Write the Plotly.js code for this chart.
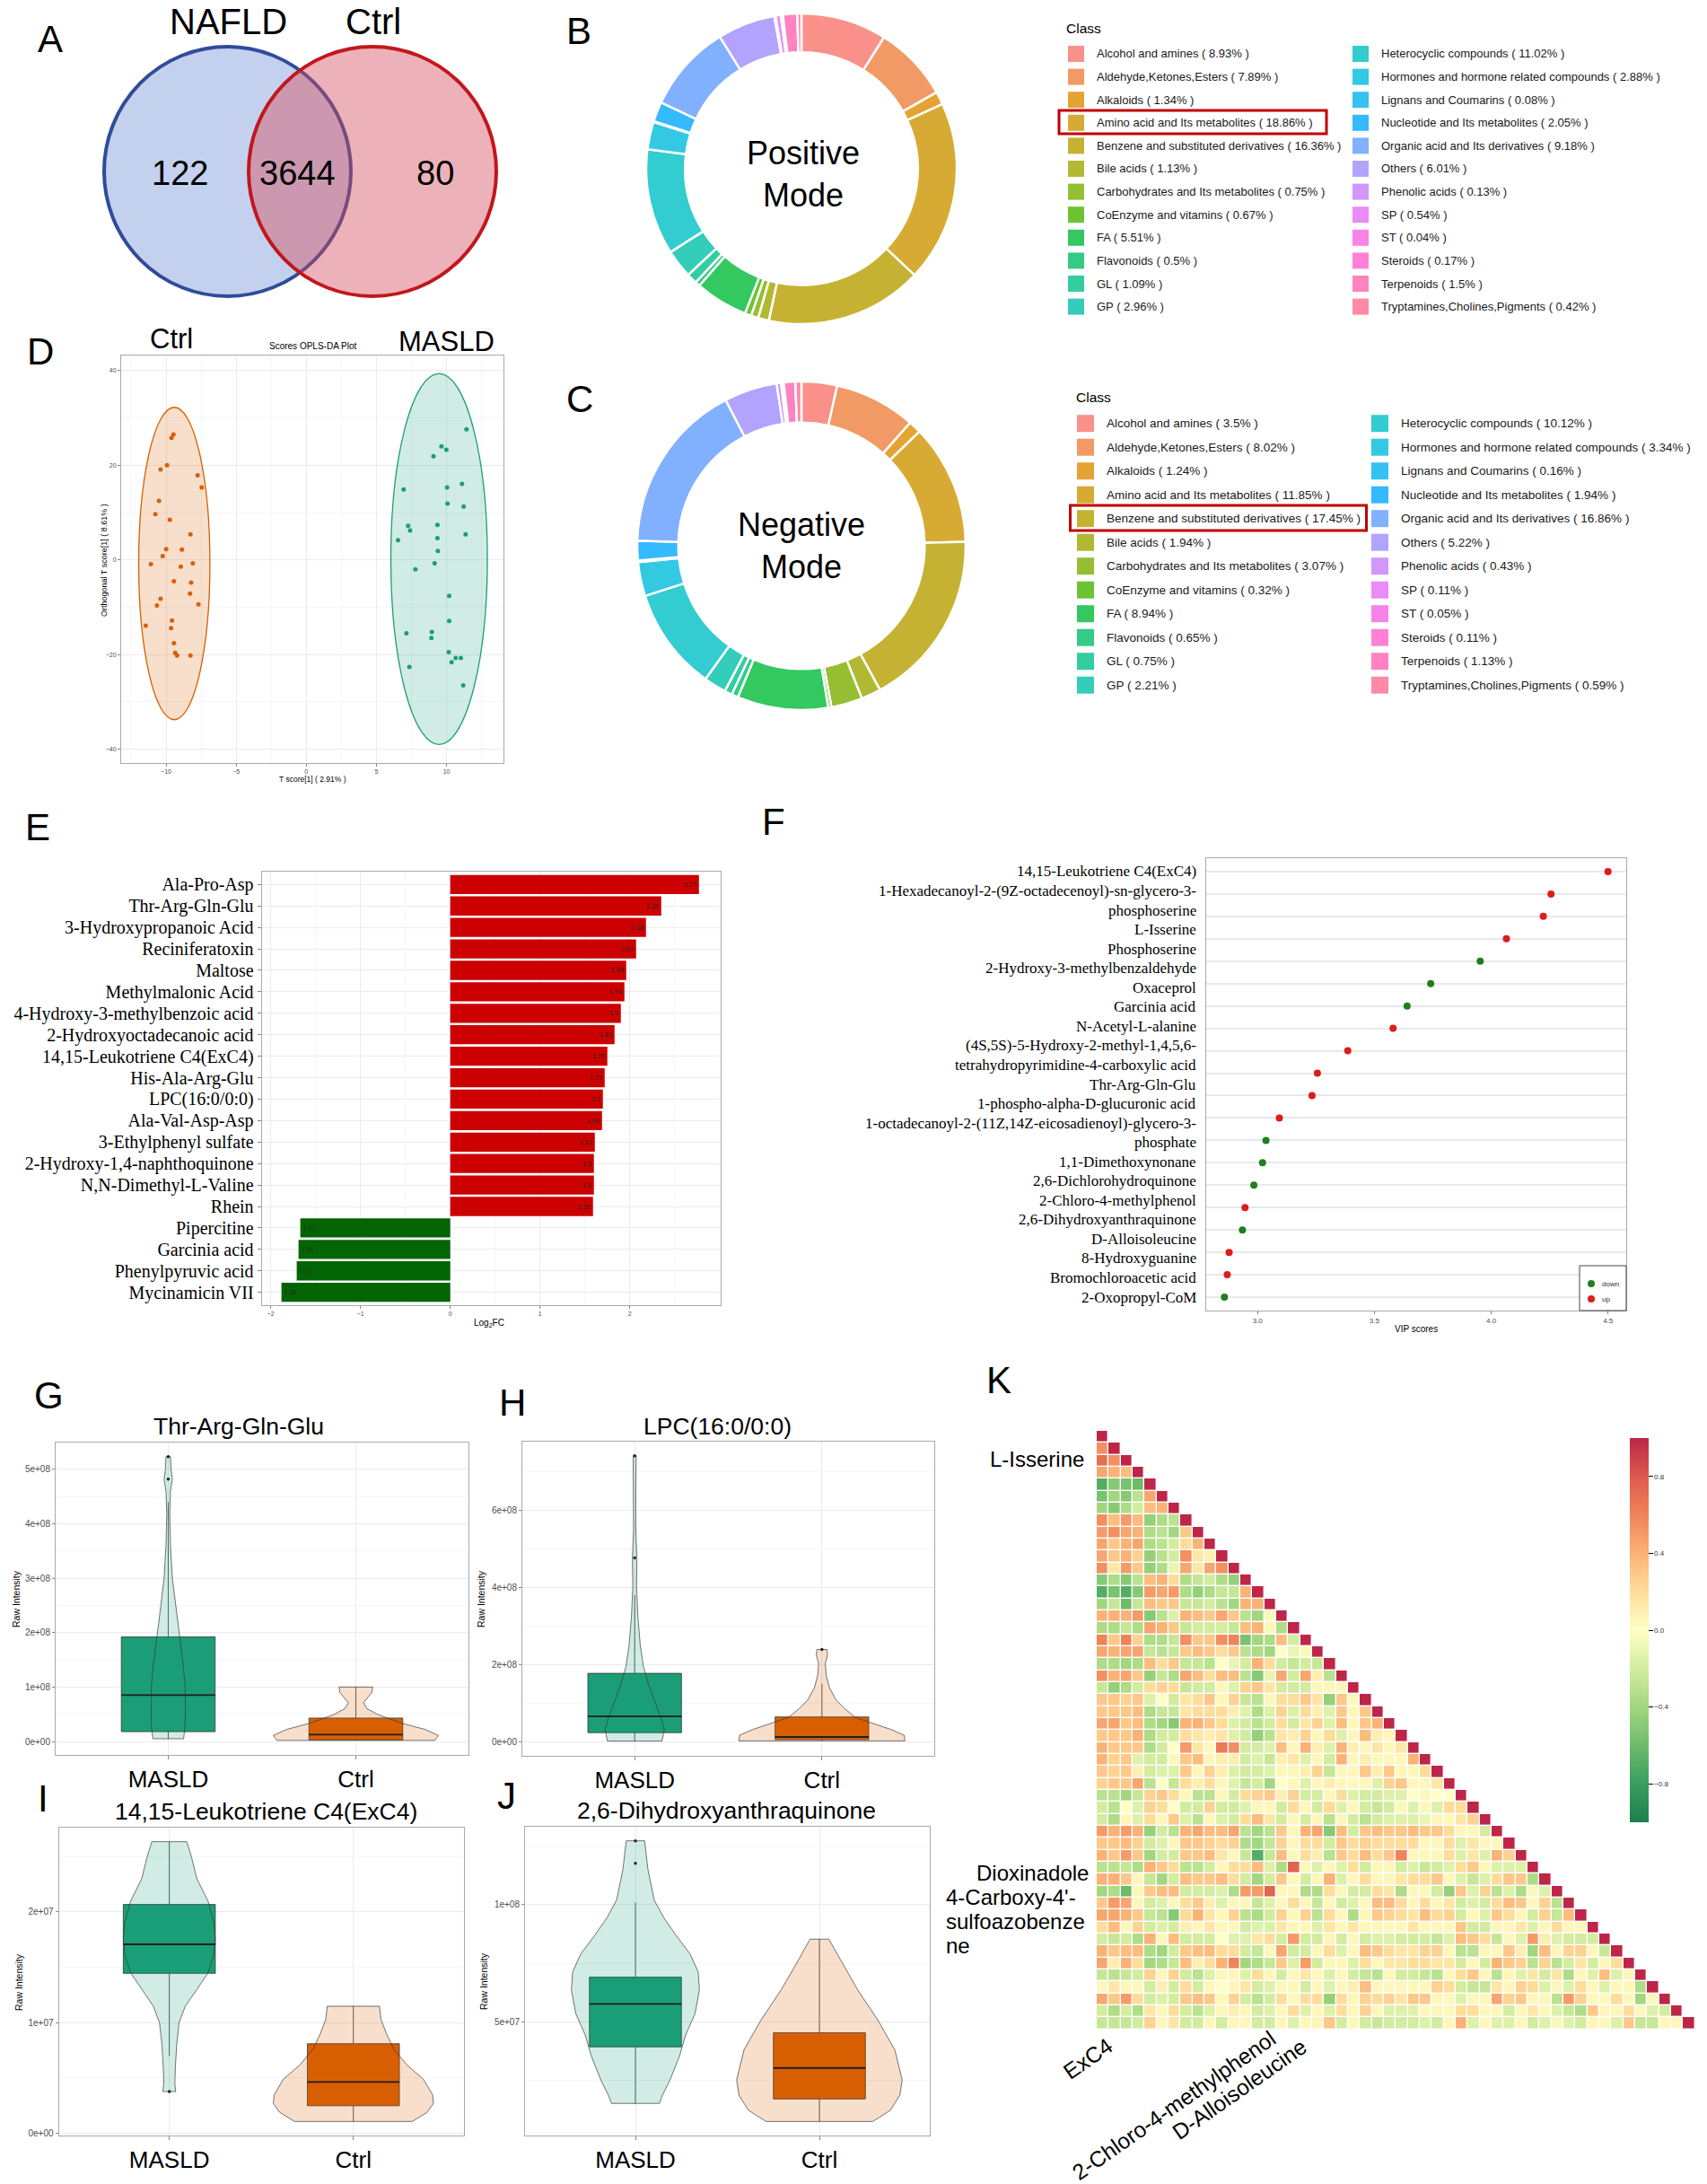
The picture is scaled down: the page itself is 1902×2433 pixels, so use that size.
<!DOCTYPE html>
<html><head><meta charset="utf-8">
<script src="https://cdn.plot.ly/plotly-3.0.1.min.js"></script>
<style>html,body{margin:0;padding:0;background:#fff}#chart{width:1902px;height:2433px}</style>
</head><body><div id="chart"></div>
<script>
// ================= DATA =================
const vennSets = ['NAFLD', 'Ctrl'];
const vennCounts = [122, 3644, 80]; // NAFLD only, shared, Ctrl only

const classNames = ['Alcohol and amines','Aldehyde,Ketones,Esters','Alkaloids','Amino acid and Its metabolites',
 'Benzene and substituted derivatives','Bile acids','Carbohydrates and Its metabolites','CoEnzyme and vitamins',
 'FA','Flavonoids','GL','GP','Heterocyclic compounds','Hormones and hormone related compounds',
 'Lignans and Coumarins','Nucleotide and Its metabolites','Organic acid and Its derivatives','Others',
 'Phenolic acids','SP','ST','Steroids','Terpenoids','Tryptamines,Cholines,Pigments'];
const posPct = [8.93,7.89,1.34,18.86,16.36,1.13,0.75,0.67,5.51,0.5,1.09,2.96,11.02,2.88,0.08,2.05,9.18,6.01,0.13,0.54,0.04,0.17,1.5,0.42];
const negPct = [3.5,8.02,1.24,11.85,17.45,1.94,3.07,0.32,8.94,0.65,0.75,2.21,10.12,3.34,0.16,1.94,16.86,5.22,0.43,0.11,0.05,0.11,1.13,0.59];
const modeNames = ['Positive<br>Mode', 'Negative<br>Mode'];

const groups = ['MASLD', 'Ctrl'];
const ctrlT = [-9.47,-9.61,-9.93,-10.39,-7.75,-7.46,-10.50,-10.76,-9.73,-8.26,-9.99,-8.87,-10.24,-11.08,-8.09,-8.95,-9.44,-8.21,-8.29,-10.39,-7.69,-10.65,-9.58,-11.45,-9.64,-9.44,-9.35,-9.21,-8.26];
const ctrlO = [26.5,25.8,20.0,19.1,17.9,15.3,12.5,9.7,8.5,5.4,2.3,2.2,0.8,-0.9,-0.7,-1.4,-4.5,-4.8,-7.1,-8.2,-9.4,-9.6,-12.8,-13.9,-14.4,-17.6,-19.6,-20.2,-20.2];
const masldT = [11.42,9.64,9.99,9.07,11.10,10.04,6.94,10.07,11.22,7.26,9.35,7.40,11.36,9.35,6.54,9.38,9.15,7.78,10.19,10.19,7.14,8.95,8.92,10.16,10.65,11.02,10.36,7.35,11.19];
const masldO = [27.6,24.0,23.3,21.9,16.1,15.3,14.9,11.9,11.3,7.2,7.4,6.2,5.4,4.6,4.2,1.9,-0.7,-2.0,-7.6,-12.9,-15.5,-15.2,-16.5,-19.5,-20.7,-20.7,-21.6,-22.6,-26.5];
// 95% ellipse extents: [centre T, centre O, half-width T, half-height O]
const ctrlEllipse = [-9.41, -0.75, 2.54, 33.0];
const masldEllipse = [9.47, 0.2, 3.44, 39.2];
const dAxisTitles = ['T score[1] ( 2.91% )', 'Orthogonal T score[1] ( 8.61% )', 'Scores OPLS-DA Plot'];

const eNames = ['Ala-Pro-Asp','Thr-Arg-Gln-Glu','3-Hydroxypropanoic Acid','Reciniferatoxin','Maltose','Methylmalonic Acid',
 '4-Hydroxy-3-methylbenzoic acid','2-Hydroxyoctadecanoic acid','14,15-Leukotriene C4(ExC4)','His-Ala-Arg-Glu','LPC(16:0/0:0)',
 'Ala-Val-Asp-Asp','3-Ethylphenyl sulfate','2-Hydroxy-1,4-naphthoquinone','N,N-Dimethyl-L-Valine','Rhein',
 'Pipercitine','Garcinia acid','Phenylpyruvic acid','Mycinamicin VII'];
const eLog2FC = [2.77,2.35,2.18,2.07,1.96,1.94,1.9,1.83,1.75,1.72,1.7,1.69,1.61,1.6,1.6,1.59,-1.67,-1.69,-1.71,-1.88];

const fNames = ['14,15-Leukotriene C4(ExC4)','1-Hexadecanoyl-2-(9Z-octadecenoyl)-sn-glycero-3-\nphosphoserine','L-Isserine',
 'Phosphoserine','2-Hydroxy-3-methylbenzaldehyde','Oxaceprol','Garcinia acid','N-Acetyl-L-alanine',
 '(4S,5S)-5-Hydroxy-2-methyl-1,4,5,6-\ntetrahydropyrimidine-4-carboxylic acid','Thr-Arg-Gln-Glu','1-phospho-alpha-D-glucuronic acid',
 '1-octadecanoyl-2-(11Z,14Z-eicosadienoyl)-glycero-3-\nphosphate','1,1-Dimethoxynonane','2,6-Dichlorohydroquinone',
 '2-Chloro-4-methylphenol','2,6-Dihydroxyanthraquinone','D-Alloisoleucine','8-Hydroxyguanine','Bromochloroacetic acid','2-Oxopropyl-CoM'];
const fVIP = [4.50,4.256,4.223,4.065,3.953,3.741,3.640,3.580,3.386,3.256,3.233,3.093,3.036,3.021,2.984,2.946,2.935,2.878,2.870,2.858];
const fDir = ['up','up','up','up','down','down','down','up','up','up','up','up','down','down','down','up','down','up','up','down'];

const violinTitles = ['Thr-Arg-Gln-Glu','LPC(16:0/0:0)','14,15-Leukotriene C4(ExC4)','2,6-Dihydroxyanthraquinone'];
// violin outlines: intensity levels and half-widths (category units)
const gMLev=[0.05e8,0.3e8,0.6e8,1.0e8,1.4e8,1.8e8,2.2e8,2.6e8,3.0e8,3.6e8,4.2e8,4.6e8,4.82e8,5.0e8,5.23e8];
const gMWid=[0.082,0.09,0.092,0.09,0.08,0.065,0.05,0.035,0.022,0.012,0.008,0.012,0.022,0.015,0.012];
const gCLev=[0.02e8,0.11e8,0.22e8,0.33e8,0.49e8,0.6e8,0.71e8,0.8e8,0.9e8,1.0e8];
const gCWid=[0.42,0.44,0.37,0.25,0.12,0.06,0.04,0.06,0.085,0.09];
const hMLev=[0.01e8,0.31e8,0.62e8,1.0e8,1.48e8,1.94e8,2.49e8,3.26e8,4.04e8,4.77e8,5.5e8,6.5e8,7.42e8];
const hMWid=[0.146,0.158,0.14,0.11,0.074,0.047,0.03,0.017,0.01,0.012,0.006,0.006,0.008];
const hCLev=[0.015e8,0.16e8,0.31e8,0.47e8,0.62e8,0.86e8,1.09e8,1.4e8,1.71e8,2.02e8,2.25e8,2.39e8];
const hCWid=[0.443,0.44,0.37,0.27,0.18,0.12,0.074,0.04,0.023,0.018,0.03,0.027];
const iMLev=[3.78e6,4.5e6,6e6,8e6,10e6,11.5e6,13e6,14.5e6,16e6,17.5e6,19e6,21e6,23e6,25e6,26.35e6];
const iMWid=[0.035,0.03,0.033,0.04,0.053,0.087,0.15,0.21,0.24,0.25,0.243,0.21,0.15,0.12,0.095];
const iCLev=[1.08e6,1.9e6,2.7e6,3.5e6,4.9e6,6.2e6,7.6e6,9e6,10.3e6,11.49e6];
const iCWid=[0.32,0.4,0.435,0.43,0.38,0.29,0.22,0.18,0.15,0.142];
const jMLev=[15.3e6,18.8e6,25.3e6,35.5e6,44.5e6,53.5e6,63.7e6,71.4e6,79e6,86.8e6,94.5e6,102e6,115e6,127.2e6];
const jMWid=[0.13,0.147,0.188,0.24,0.273,0.324,0.348,0.341,0.297,0.222,0.154,0.102,0.068,0.05];
const jCLev=[7.6e6,12.4e6,18.8e6,25.3e6,38.1e6,50.9e6,63.7e6,76.5e6,85.3e6];
const jCWid=[0.29,0.386,0.437,0.45,0.41,0.317,0.208,0.113,0.051];
// box statistics [MASLD, Ctrl]
const gQ1=[0.18e8,0.027e8], gMed=[0.85e8,0.126e8], gQ3=[1.92e8,0.43e8], gLo=[0.05e8,0.02e8], gHi=[4.4e8,1.0e8];
const hQ1=[0.23e8,0.047e8], hMed=[0.65e8,0.117e8], hQ3=[1.77e8,0.637e8], hLo=[0.01e8,0.015e8], hHi=[3.8e8,1.5e8];
const iQ1=[14.46e6,2.5e6], iMed=[17.08e6,4.65e6], iQ3=[20.68e6,8.1e6], iLo=[7.0e6,1.08e6], iHi=[26.35e6,11.49e6];
const jQ1=[39.4e6,17.2e6], jMed=[57.7e6,30.4e6], jQ3=[69.1e6,45.4e6], jLo=[15.3e6,7.6e6], jHi=[100.9e6,85.3e6];
const gOut=[4.82e8,5.23e8], hOutM=[4.77e8,7.42e8], hOutC=[2.39e8], iOut=[3.78e6], jOut=[117.6e6,127.2e6];
const gTicks=['0e+00','1e+08','2e+08','3e+08','4e+08','5e+08'];
const hTicks=['0e+00','2e+08','4e+08','6e+08'];
const iTicks=['0e+00','1e+07','2e+07'];
const jTicks=['5e+07','1e+08'];

// correlation matrix, lower triangle (row r has r+1 values)
const corrRows = [
[1],
[.55,1],
[.7,.55,1],
[.45,.4,.35,1],
[-.7,-.5,-.55,-.6,1],
[-.55,-.4,-.5,-.3,.45,1],
[-.4,-.5,-.35,-.2,.35,.4,1],
[.55,.35,.5,.35,-.45,-.35,-.3,1],
[.5,.55,.45,.4,-.35,-.3,-.4,.3,1],
[.45,.3,.4,.45,-.35,-.3,-.2,.2,.4,1],
[.45,.3,.4,.25,-.45,-.3,-.2,.55,.15,.1,1],
[.55,.15,.5,.3,-.45,-.35,-.1,.45,.15,.45,.55,1],
[-.5,-.35,-.5,-.3,.35,.4,.2,-.35,-.25,-.2,-.35,-.45,1],
[-.7,-.55,-.7,-.5,.5,.45,.5,-.35,-.45,-.35,-.25,-.25,.4,1],
[-.4,-.25,-.6,-.25,.35,.3,.3,-.25,-.25,-.2,-.3,-.4,.4,.4,1],
[.4,.4,.4,.5,-.5,-.3,-.15,.4,.35,.3,.45,.3,-.3,-.4,.05,1],
[-.35,-.35,-.25,-.35,.45,.4,.3,-.25,-.2,-.2,-.2,-.25,.35,.4,.05,-.35,1],
[.6,.3,.6,.25,-.35,-.35,-.25,.55,.3,.3,.55,.6,-.55,-.4,-.35,.35,-.2,1],
[.45,.4,.45,.45,-.25,-.3,-.25,.3,.35,.3,.2,.3,-.3,-.35,-.4,0,-.1,.05,1],
[-.35,-.35,-.4,-.35,.35,.2,.3,-.25,-.25,-.3,0,-.1,-.2,.4,.2,-.2,-.25,-.2,-.25,1],
[.55,.4,.45,.3,-.45,-.25,-.35,.45,.35,.2,.35,.35,-.3,-.5,-.1,.45,-.2,.45,.1,-.3,1],
[-.25,-.45,-.35,-.2,.2,.25,.2,-.25,-.2,-.2,.05,-.15,.25,.3,.15,-.2,-.2,-.2,.05,.05,.05,1],
[.3,.3,.25,.3,-.15,0,-.2,.15,.2,.3,.05,.25,-.25,-.3,.05,.2,.2,.3,.15,-.45,.3,.05,1],
[.3,.3,.3,.35,-.35,-.25,-.25,.15,.2,.2,.2,.1,-.15,-.35,-.15,.25,-.15,.2,.1,-.15,.3,.05,.3,1],
[.45,.45,.3,.35,-.35,-.4,-.5,.4,.4,.3,.2,-.15,-.2,-.3,-.2,.2,-.2,.15,.25,-.15,.35,.05,.3,.4,1],
[.3,.3,.3,.4,-.35,-.2,-.2,.2,.15,.1,.15,-.15,-.2,-.45,-.3,.15,.1,.25,.05,.2,-.15,.05,.35,.1,.05,1],
[.4,.3,.3,.3,-.35,-.2,0,.5,.15,.05,.65,.55,-.2,-.2,-.15,.35,.05,.4,.1,-.15,.4,.1,.05,.15,.05,.15,1],
[.4,.25,.3,-.15,-.2,-.2,.05,.3,.35,.05,.1,.1,-.2,-.15,-.25,.1,.15,-.15,.05,-.2,.4,.05,.1,.05,.05,.05,.4,1],
[.3,.25,.3,.1,-.2,-.15,-.15,.3,.05,.25,.1,-.15,-.2,-.2,-.15,.05,.05,.1,.25,-.25,.05,.05,.3,.1,.3,.05,.05,.2,1],
[.25,.3,.3,.45,-.3,0,-.25,.2,.1,.2,.05,-.15,-.25,-.2,-.4,0,.05,-.15,.05,.1,.05,.05,.05,-.15,.25,.3,.05,.05,.15,1],
[-.3,-.3,-.4,-.25,.25,.3,.2,.05,-.3,-.3,.05,-.2,.2,.25,.3,.1,.25,-.2,-.2,.05,.2,-.15,-.2,-.2,-.15,-.15,0,.05,0,0,1],
[-.2,-.3,0,-.15,.25,.2,0,-.2,-.2,.25,-.2,-.2,-.15,.05,.05,-.2,.2,.05,-.2,.2,-.15,.05,-.2,-.25,-.2,.05,-.15,.05,-.15,.2,.2,1],
[-.2,-.35,.05,-.15,.2,.05,.3,-.15,-.3,.05,-.15,-.2,.2,.35,.15,-.2,.05,-.2,.05,-.3,.05,-.2,-.3,-.2,-.15,-.15,-.15,-.1,.05,.05,.15,.25,1],
[.5,.4,.5,.4,-.45,-.2,-.3,.4,.45,.35,.35,.45,-.3,-.4,-.3,.3,.05,.4,.45,-.5,.35,-.2,.3,.35,.3,.3,.35,.3,.3,.2,.05,.05,-.2,1],
[.3,.3,.35,.25,-.2,-.15,.05,.3,.3,.25,.2,.25,-.35,-.4,-.25,.25,.05,.2,.2,-.2,.3,.2,.25,.2,.2,.2,.2,.05,.05,.2,-.15,.15,.05,.05,1],
[.4,.3,.5,.3,-.4,-.2,-.2,.3,.3,.35,.15,.05,-.25,-.7,-.25,.35,.05,.2,.1,-.3,.3,.2,.35,.2,.3,.6,.05,.05,.05,.2,-.15,.15,-.15,.4,.25,1],
[-.3,-.3,-.25,-.35,.4,.3,.2,-.3,-.3,-.2,.05,.2,.2,.35,-.15,-.35,.75,.05,-.15,.05,-.15,.2,-.2,.05,.05,-.2,-.15,-.25,-.2,-.15,.2,.3,.05,-.15,-.15,-.15,1],
[.4,.4,.3,.05,-.25,-.4,-.2,.35,.3,.3,.35,.2,-.2,-.4,-.2,.3,.05,-.2,.05,.4,-.15,.05,.2,.05,.05,.15,.2,.2,.3,.05,-.15,-.25,-.15,.2,.3,.3,-.35,1],
[-.4,-.35,-.6,.05,.3,.35,.35,-.2,-.2,-.2,-.15,-.35,.5,.5,.75,.05,.05,-.35,-.35,.2,.05,-.2,-.2,.2,.15,-.35,.05,.05,-.2,-.45,.3,-.15,.25,-.3,-.15,-.35,.05,-.15,1],
[.3,.5,.45,.05,-.2,-.15,.05,.2,.3,.1,-.15,.05,.05,-.25,-.15,.05,.2,.05,-.25,.05,-.2,-.15,.05,.35,.35,.2,.05,.2,.05,.15,-.2,-.15,-.2,.2,.35,.3,.05,.25,-.3,1],
[.45,.45,.4,.3,-.25,-.3,-.5,.2,.4,.15,.05,.25,-.3,-.35,-.2,.25,.05,.25,-.3,.2,.05,-.35,.05,.3,.25,.2,.15,.35,.2,.25,-.2,.05,-.15,.3,.2,.05,-.2,.25,-.25,.35,1],
[.2,.35,.05,.25,-.2,-.15,-.2,.1,.05,.15,.05,.05,-.2,-.15,-.15,.15,.05,.05,-.15,.15,.05,.15,.05,.05,.05,.05,.15,.05,.05,.05,.3,-.2,-.2,.05,.05,.15,-.15,.05,.2,.05,.05,1],
[-.2,-.25,-.2,-.35,.4,.05,.35,-.2,-.2,-.2,0,-.15,-.15,.15,.2,-.2,.5,-.2,-.2,.05,-.2,.05,-.2,-.15,-.15,-.2,-.2,-.2,-.25,-.15,.35,.3,.2,-.25,.05,-.15,.5,.1,-.15,-.2,-.2,-.2,1],
[.4,.3,.35,.35,-.35,-.4,-.2,.3,.35,.35,.2,.2,-.2,-.25,.05,.45,-.2,-.2,.05,.2,-.15,.05,.35,.3,.2,.15,.15,.25,.25,.05,-.3,-.3,.05,.05,.3,.1,-.4,.35,.05,.25,.25,.05,-.25,1],
[.45,.1,.4,.2,-.4,-.35,-.25,.35,.1,.2,.4,.6,-.4,-.35,-.25,.3,-.15,.5,-.2,.05,.05,-.15,.2,.05,.15,.15,.2,.2,.15,.15,-.2,.05,-.2,.4,.3,.25,-.3,.25,-.3,-.2,.15,-.2,.05,.2,1],
[-.25,-.3,-.25,-.2,.25,.05,.25,-.2,-.3,-.15,.05,.05,-.15,.2,.05,-.2,.05,.15,.05,-.15,.05,-.2,-.25,-.3,.05,-.2,-.2,-.25,-.3,.05,.2,.3,.05,-.3,.05,-.15,.15,-.2,.15,-.35,.05,-.15,.35,-.15,.05,1],
[.05,.15,.05,.05,-.2,.1,-.2,.2,-.2,.05,0,.05,.15,-.2,-.15,.05,.05,-.2,.05,-.15,.05,.1,.35,.05,.05,.05,.05,.05,.25,.2,-.2,-.25,-.25,.15,.05,.25,.2,-.15,.05,-.15,.2,.05,-.15,.05,.05,-.35,1],
[.45,.3,.5,.2,-.2,-.15,-.2,.3,.35,.3,.05,.25,-.2,-.3,-.2,.2,.05,.2,.2,-.45,.2,.05,.25,.2,.25,.15,.3,.3,.05,.05,-.15,.05,.05,.45,.25,.3,.05,.05,-.3,.5,.25,.05,.05,.2,.05,-.4,.05,1],
[-.2,-.35,-.2,-.35,.15,.05,.2,-.2,-.3,-.15,.05,.1,.05,-.2,-.15,.05,.2,-.15,.05,-.15,.2,.05,.25,.05,-.15,-.15,-.15,.05,.05,.05,.2,.2,.05,.05,-.2,.05,.15,.05,-.15,-.25,-.35,.3,.05,.05,.2,.05,-.15,-.2,1],
[-.25,-.25,-.25,-.2,.25,.05,.15,-.2,-.2,.05,-.2,.05,.05,-.2,-.2,.05,-.15,.05,.05,.3,-.2,.05,-.2,-.25,-.2,-.2,-.2,-.15,-.2,.05,.4,-.15,.05,-.15,-.15,.05,-.2,-.15,.05,-.15,-.2,.05,.05,-.15,.3,-.25,-.25,.05,.05,1]
];
const kRowLabels = ['L-Isserine', 'Dioxinadole', "4-Carboxy-4'-\nsulfoazobenze\nne"];
const kColLabels = ['ExC4', '2-Chloro-4-methylphenol', 'D-Alloisoleucine'];
const kTickVals = [-0.8,-0.4,0,0.4,0.8];
const kTickText = ['\u22120.8','\u22120.4','0.0','0.4','0.8'];

// ================= HELPERS =================
const W = 1902, H = 2433;
const FONT = 'Liberation Sans, Arial, sans-serif';
const SERIF = 'Liberation Serif, Times New Roman, serif';
const px = x => x / W, py = y => 1 - y / H;
const xd = (a, b) => [a / W, b / W];
const yd = (top, bot) => [1 - bot / H, 1 - top / H];

function hcl2rgb(h, c, l) {
  const hr = h * Math.PI / 180, U = c * Math.cos(hr), V = c * Math.sin(hr);
  const Xn = 95.047, Yn = 100, Zn = 108.883, den = Xn + 15 * Yn + 3 * Zn;
  const un = 4 * Xn / den, vn = 9 * Yn / den;
  const Y = Yn * Math.pow((l + 16) / 116, 3);
  const u = U / (13 * l) + un, v = V / (13 * l) + vn;
  const X = Y * 9 * u / (4 * v), Z = Y * (12 - 3 * u - 20 * v) / (4 * v);
  const x = X / 100, y = Y / 100, z = Z / 100;
  const lin = [3.240479*x - 1.537150*y - 0.498535*z, -0.969256*x + 1.875992*y + 0.041556*z, 0.055648*x - 0.204043*y + 1.057311*z];
  return lin.map(t => { t = Math.max(0, Math.min(1, t)); t = t <= 0.0031308 ? 12.92 * t : 1.055 * Math.pow(t, 1 / 2.4) - 0.055; return Math.round(Math.max(0, Math.min(1, t)) * 255); });
}
const sliceCols = classNames.map((_, i) => { const c = hcl2rgb(15 + i * 360 / classNames.length, 100, 65); return `rgba(${c[0]},${c[1]},${c[2]},0.8)`; });

const traces = [];
const shapes = [];
const annotations = [];
function ann(text, x, y, size, o) {
  annotations.push(Object.assign({ text: text, x: px(x), y: py(y), xref: 'paper', yref: 'paper', showarrow: false,
    font: { size: size, color: '#000', family: FONT }, xanchor: 'center', yanchor: 'middle' }, o || {}));
}
function baseAx(dom, o) {
  return Object.assign({ domain: dom, showline: true, mirror: true, linecolor: '#A9A9A9', linewidth: 1, zeroline: false,
    showgrid: true, gridcolor: '#EBEBEB', gridwidth: 1, ticks: 'outside', ticklen: 3, tickwidth: 0.8, tickcolor: '#666',
    tickfont: { size: 7, color: '#4D4D4D', family: FONT }, fixedrange: true }, o);
}

// ================= A: Venn =================
shapes.push({ type: 'circle', xref: 'paper', yref: 'paper', x0: px(116), x1: px(391), y0: py(330), y1: py(52),
  fillcolor: '#C4D1EE', line: { color: '#2F4C9A', width: 4 } });
shapes.push({ type: 'circle', xref: 'paper', yref: 'paper', x0: px(277), x1: px(553), y0: py(330), y1: py(52),
  fillcolor: 'rgba(214,77,93,0.43)', line: { color: '#C3161D', width: 4 } });
ann(vennSets[0], 254, 24, 40);
ann(vennSets[1], 416, 24, 40);
ann(String(vennCounts[0]), 200, 193, 38);
ann(String(vennCounts[1]), 331, 193, 38);
ann(String(vennCounts[2]), 485, 193, 38);

// ================= B / C: donuts + legends =================
function donut(vals, dom) {
  traces.push({ type: 'pie', values: vals, labels: classNames, sort: false, direction: 'clockwise', rotation: 0, hole: 0.75,
    textinfo: 'none', hoverinfo: 'skip', showlegend: false,
    marker: { colors: sliceCols, line: { color: '#fff', width: 2.5 } }, domain: dom });
}
donut(posPct, { x: xd(720, 1066), y: yd(15, 361) });
donut(negPct, { x: xd(710, 1076), y: yd(425, 791) });
ann(modeNames[0], 895, 194, 36);
ann(modeNames[1], 893, 608, 36);

function classLegend(pcts, g) {
  ann('Class', g.tx, g.ty, 15.5, { xanchor: 'left' });
  pcts.forEach((p, i) => {
    const col = i < 12 ? 0 : 1, row = i % 12;
    const yc = g.y0 + row * g.dy;
    const sx = col ? g.sx2 : g.sx1, tx = col ? g.tx2 : g.tx1;
    shapes.push({ type: 'rect', xref: 'paper', yref: 'paper', x0: px(sx), x1: px(sx + g.sw), y0: py(yc + g.sw / 2), y1: py(yc - g.sw / 2),
      fillcolor: sliceCols[i], line: { width: 0 } });
    ann(`${classNames[i]} ( ${p}% )`, tx, yc, g.fs, { xanchor: 'left', font: { size: g.fs, color: '#1a1a1a', family: FONT } });
  });
  shapes.push({ type: 'rect', xref: 'paper', yref: 'paper', x0: px(g.box[0]), x1: px(g.box[1]), y0: py(g.box[3]), y1: py(g.box[2]),
    line: { color: '#C00000', width: 3 }, fillcolor: 'rgba(0,0,0,0)' });
}
classLegend(posPct, { tx: 1186, ty: 32, y0: 60, dy: 25.6, sx1: 1190, sx2: 1507, sw: 18, tx1: 1220, tx2: 1537, fs: 13, box: [1180, 1478, 123, 149] });
classLegend(negPct, { tx: 1197, ty: 443, y0: 471.7, dy: 26.5, sx1: 1200, sx2: 1528, sw: 19, tx1: 1231, tx2: 1559, fs: 13.5, box: [1192.5, 1522.5, 563, 591] });

// ================= D: OPLS-DA =================
const ORANGE = '#D95F02', TEAL = '#1B9E77';
[[ctrlEllipse, ORANGE, 'rgba(217,95,2,0.2)'], [masldEllipse, TEAL, 'rgba(27,158,119,0.2)']].forEach(([e, lc, fc]) => {
  shapes.push({ type: 'circle', xref: 'x', yref: 'y', layer: 'between', x0: e[0] - e[2], x1: e[0] + e[2], y0: e[1] - e[3], y1: e[1] + e[3],
    fillcolor: fc, line: { color: lc, width: 1.3 } });
});
traces.push({ type: 'scatter', mode: 'markers', x: ctrlT, y: ctrlO, marker: { color: ORANGE, size: 5 }, xaxis: 'x', yaxis: 'y', hoverinfo: 'skip' });
traces.push({ type: 'scatter', mode: 'markers', x: masldT, y: masldO, marker: { color: TEAL, size: 5 }, xaxis: 'x', yaxis: 'y', hoverinfo: 'skip' });
ann(groups[1], 191, 378, 31);
ann(groups[0], 498, 380, 31);
ann(dAxisTitles[2], 348, 385, 10);
ann(dAxisTitles[0], 348, 868, 8.5);
ann(dAxisTitles[1], 116, 624, 9, { textangle: -90 });

// ================= E: log2FC bars =================
traces.push({ type: 'bar', orientation: 'h', y: eNames, x: eLog2FC, width: 0.89,
  marker: { color: eLog2FC.map(v => v > 0 ? '#CC0000' : '#036403'), line: { width: 0 } },
  text: eLog2FC.map(v => String(Math.abs(v))), textposition: 'inside', insidetextanchor: 'end',
  textfont: { size: 7, color: '#2a2a2a', family: FONT }, insidetextfont: { size: 7, color: '#2a2a2a' },
  xaxis: 'x2', yaxis: 'y2', hoverinfo: 'skip' });
ann('Log<sub>2</sub>FC', 545, 1474, 10);

// ================= F: VIP dots =================
const fKeys = fNames.map(s => s.replace('\n', ''));
['down', 'up'].forEach(dir => {
  const idx = fDir.map((d, i) => d === dir ? i : -1).filter(i => i >= 0);
  traces.push({ type: 'scatter', mode: 'markers', x: idx.map(i => fVIP[i]), y: idx.map(i => fKeys[i]),
    marker: { color: dir === 'up' ? '#DD1C1C' : '#1F7F1F', size: 8 }, xaxis: 'x3', yaxis: 'y3', hoverinfo: 'skip' });
});
const fLines = fNames.flatMap(s => s.split('\n'));
fLines.forEach((t, j) => {
  annotations.push({ text: t, x: px(1335), xref: 'paper', y: j * (fNames.length - 1) / (fLines.length - 1), yref: 'y3',
    showarrow: false, xanchor: 'right', yanchor: 'middle', font: { family: SERIF, size: 17, color: '#000' } });
});
ann('VIP scores', 1578, 1480, 10);
// legend box
shapes.push({ type: 'rect', xref: 'paper', yref: 'paper', x0: px(1760), x1: px(1812), y0: py(1460), y1: py(1410), line: { color: '#444', width: 1 }, fillcolor: '#fff' });
[['down', '#1F7F1F', 1430], ['up', '#DD1C1C', 1447]].forEach(([t, c, y]) => {
  shapes.push({ type: 'circle', xref: 'paper', yref: 'paper', x0: px(1769), x1: px(1777), y0: py(y + 4), y1: py(y - 4), fillcolor: c, line: { width: 0 } });
  ann(t, 1783, y, 8, { xanchor: 'left', font: { size: 8, color: '#333', family: FONT } });
});

// ================= G-J: violins =================
function violin(xa, ya, idx, lev, wid, fill) {
  const xs = [], ys = [];
  lev.forEach((v, i) => { xs.push(idx + wid[i]); ys.push(v); });
  for (let i = lev.length - 1; i >= 0; i--) { xs.push(idx - wid[i]); ys.push(lev[i]); }
  xs.push(xs[0]); ys.push(ys[0]);
  traces.push({ type: 'scatter', mode: 'lines', x: xs, y: ys, fill: 'toself', fillcolor: fill,
    line: { color: '#3a3a3a', width: 0.7 }, xaxis: xa, yaxis: ya, hoverinfo: 'skip' });
}
function boxes(xa, ya, q1, med, q3, lo, hi) {
  [TEAL, ORANGE].forEach((c, k) => {
    traces.push({ type: 'box', x: [k], q1: [q1[k]], median: [med[k]], q3: [q3[k]], lowerfence: [lo[k]], upperfence: [hi[k]],
      width: 0.5, whiskerwidth: 0, fillcolor: c, line: { color: '#333', width: 0.8 }, boxpoints: false,
      xaxis: xa, yaxis: ya, hoverinfo: 'skip' });
  });
}
function medians(xa, ya, med) {
  med.forEach((m, k) => traces.push({ type: 'scatter', mode: 'lines', x: [k - 0.25, k + 0.25], y: [m, m],
    line: { color: '#1e1e1e', width: 1.8 }, xaxis: xa, yaxis: ya, hoverinfo: 'skip' }));
}
function outliers(xa, ya, k, vals) {
  if (!vals.length) return;
  traces.push({ type: 'scatter', mode: 'markers', x: vals.map(() => k), y: vals, marker: { color: '#222', size: 3.5 }, xaxis: xa, yaxis: ya, hoverinfo: 'skip' });
}
const MF = 'rgba(27,158,119,0.2)', CF = 'rgba(217,95,2,0.2)';
boxes('x4', 'y4', gQ1, gMed, gQ3, gLo, gHi);
violin('x4', 'y4', 0, gMLev, gMWid, MF); violin('x4', 'y4', 1, gCLev, gCWid, CF);
medians('x4', 'y4', gMed); outliers('x4', 'y4', 0, gOut);
boxes('x5', 'y5', hQ1, hMed, hQ3, hLo, hHi);
violin('x5', 'y5', 0, hMLev, hMWid, MF); violin('x5', 'y5', 1, hCLev, hCWid, CF);
medians('x5', 'y5', hMed); outliers('x5', 'y5', 0, hOutM); outliers('x5', 'y5', 1, hOutC);
boxes('x6', 'y6', iQ1, iMed, iQ3, iLo, iHi);
violin('x6', 'y6', 0, iMLev, iMWid, MF); violin('x6', 'y6', 1, iCLev, iCWid, CF);
medians('x6', 'y6', iMed); outliers('x6', 'y6', 0, iOut);
boxes('x7', 'y7', jQ1, jMed, jQ3, jLo, jHi);
violin('x7', 'y7', 0, jMLev, jMWid, MF); violin('x7', 'y7', 1, jCLev, jCWid, CF);
medians('x7', 'y7', jMed); outliers('x7', 'y7', 0, jOut);

ann(violinTitles[0], 266, 1589, 26.5);
ann(violinTitles[1], 799, 1589, 26.5);
ann(violinTitles[2], 296, 2018, 26.5);
ann(violinTitles[3], 809, 2017, 26.5);
[[18, 1781], [536, 1781], [21, 2208], [539, 2207]].forEach(([x, y]) => ann('Raw Intensity', x, y, 10.5, { textangle: -90 }));

// ================= K: correlation heatmap =================
const n = corrRows.length;
const zMat = corrRows.map(r => { const row = new Array(n).fill(null); r.forEach((v, c) => row[c] = v); return row; });
const idxs = Array.from({ length: n }, (_, i) => i);
traces.push({ type: 'heatmap', z: zMat, x: idxs, y: idxs, xaxis: 'x8', yaxis: 'y8', zmin: -1, zmax: 1, xgap: 1.4, ygap: 1.4,
  hoverinfo: 'skip', hoverongaps: false,
  colorscale: [[0, '#1B7F4E'], [0.1, '#3A9E5F'], [0.2, '#6DBB6B'], [0.3, '#A3D77F'], [0.4, '#D3ECA0'], [0.5, '#FEFFC6'],
    [0.6, '#FEDD9B'], [0.7, '#FBB276'], [0.8, '#F08359'], [0.9, '#DC5A4C'], [1, '#BD2649']],
  colorbar: { x: px(1816), xanchor: 'left', y: py(1602), yanchor: 'top', len: (2030 - 1602) / H, lenmode: 'fraction',
    thickness: 21, thicknessmode: 'pixels', outlinewidth: 0, xpad: 0, ypad: 0, ticks: 'outside', ticklen: 5, tickwidth: 1, tickcolor: '#000',
    tickmode: 'array', tickvals: kTickVals, ticktext: kTickText, tickfont: { size: 8, color: '#333', family: FONT } } });
ann(kRowLabels[0], 1210, 1626, 24, { xanchor: 'right' });
ann(kRowLabels[1], 1215, 2086, 24, { xanchor: 'right' });
kRowLabels[2].split('\n').forEach((t, j) => ann(t, 1052, 2113 + 27 * j, 24, { xanchor: 'left' }));
ann(kColLabels[0], 1212, 2293, 24.5, { textangle: -35 });
ann(kColLabels[1], 1308, 2345, 24.5, { textangle: -35 });
ann(kColLabels[2], 1381, 2327, 24.5, { textangle: -35 });

// ================= panel letters =================
[['A', 56, 43], ['B', 645, 35], ['D', 45, 392], ['C', 646, 444], ['E', 42, 921], ['F', 862, 915],
 ['G', 54, 1554], ['H', 571, 1562], ['I', 48, 2003], ['J', 564, 2000], ['K', 1113, 1538]].forEach(([t, x, y]) => ann(t, x, y, 42));

// ================= LAYOUT =================
const catX = (dom, ya) => baseAx(dom, { range: [-0.6, 1.6], tickmode: 'array', tickvals: [0, 1], ticktext: groups, ticklen: 4,
  tickfont: { size: 26, color: '#000', family: FONT }, anchor: ya });
const minorY = vals => ({ tickmode: 'array', tickvals: vals, showgrid: true, gridcolor: '#F4F4F4', gridwidth: 0.8, ticks: '' });
const intenFont = { size: 10, color: '#4D4D4D', family: FONT };

const layout = {
  width: W, height: H, margin: { l: 0, r: 0, t: 0, b: 0 }, paper_bgcolor: '#fff', plot_bgcolor: '#fff',
  showlegend: false, hovermode: false, font: { family: FONT },
  shapes: shapes, annotations: annotations,
  // D
  xaxis: baseAx(xd(135, 561), { range: [-13.2, 14.06], tickmode: 'array', tickvals: [-10, -5, 0, 5, 10], anchor: 'y',
    minor: minorY([-12.5, -7.5, -2.5, 2.5, 7.5, 12.5]) }),
  yaxis: baseAx(yd(396, 850), { range: [-42.9, 43.2], tickmode: 'array', tickvals: [-40, -20, 0, 20, 40], anchor: 'x',
    minor: minorY([-30, -10, 10, 30]) }),
  // E
  xaxis2: baseAx(xd(291.6, 802.8), { range: [-2.10, 3.01], tickmode: 'array', tickvals: [-2, -1, 0, 1, 2], anchor: 'y2',
    minor: minorY([-1.5, -0.5, 0.5, 1.5, 2.5]) }),
  yaxis2: baseAx(yd(971, 1454), { type: 'category', categoryorder: 'array', categoryarray: eNames, range: [eNames.length - 0.4, -0.6],
    tickmode: 'array', tickvals: eNames, ticktext: eNames,
    anchor: 'x2', ticklen: 4, tickfont: { family: SERIF, size: 20, color: '#000' } }),
  // F
  xaxis3: baseAx(xd(1344, 1812), { range: [2.78, 4.578], tickmode: 'array', tickvals: [3, 3.5, 4, 4.5], ticktext: ['3.0', '3.5', '4.0', '4.5'],
    showgrid: false, anchor: 'y3', tickfont: { size: 8, color: '#4D4D4D', family: FONT } }),
  yaxis3: baseAx(yd(956, 1460), { type: 'category', categoryorder: 'array', categoryarray: fKeys, range: [fKeys.length - 0.4, -0.6],
    tickmode: 'array', tickvals: fKeys, showticklabels: false, ticks: '', gridcolor: '#E9E9E9', gridwidth: 2, anchor: 'x3' }),
  // G
  xaxis4: catX(xd(62, 522), 'y4'),
  yaxis4: baseAx(yd(1607, 1955), { range: [-0.247e8, 5.49e8], tickmode: 'array', tickvals: [0, 1e8, 2e8, 3e8, 4e8, 5e8], ticktext: gTicks,
    tickfont: intenFont, anchor: 'x4', minor: minorY([0.5e8, 1.5e8, 2.5e8, 3.5e8, 4.5e8]) }),
  // H
  xaxis5: catX(xd(582, 1041), 'y5'),
  yaxis5: baseAx(yd(1606, 1956), { range: [-0.373e8, 7.79e8], tickmode: 'array', tickvals: [0, 2e8, 4e8, 6e8], ticktext: hTicks,
    tickfont: intenFont, anchor: 'x5', minor: minorY([1e8, 3e8, 5e8, 7e8]) }),
  // I
  xaxis6: catX(xd(65.6, 516.8), 'y6'),
  yaxis6: baseAx(yd(2036, 2379), { range: [-0.19e6, 27.62e6], tickmode: 'array', tickvals: [0, 1e7, 2e7], ticktext: iTicks,
    tickfont: intenFont, anchor: 'x6', minor: minorY([0.5e7, 1.5e7, 2.5e7]) }),
  // J
  xaxis7: catX(xd(585, 1036), 'y7'),
  yaxis7: baseAx(yd(2035, 2379), { range: [1.62e6, 133.2e6], tickmode: 'array', tickvals: [5e7, 1e8], ticktext: jTicks,
    tickfont: intenFont, anchor: 'x7', minor: minorY([2.5e7, 7.5e7, 12.5e7]) }),
  // K
  xaxis8: { domain: xd(1222, 1888.5), range: [-0.5, n - 0.5], visible: false, anchor: 'y8', fixedrange: true },
  yaxis8: { domain: yd(1594, 2260.5), range: [n - 0.5, -0.5], visible: false, anchor: 'x8', fixedrange: true }
};

Plotly.newPlot('chart', traces, layout, { displayModeBar: false, staticPlot: true });
</script>
</body></html>
